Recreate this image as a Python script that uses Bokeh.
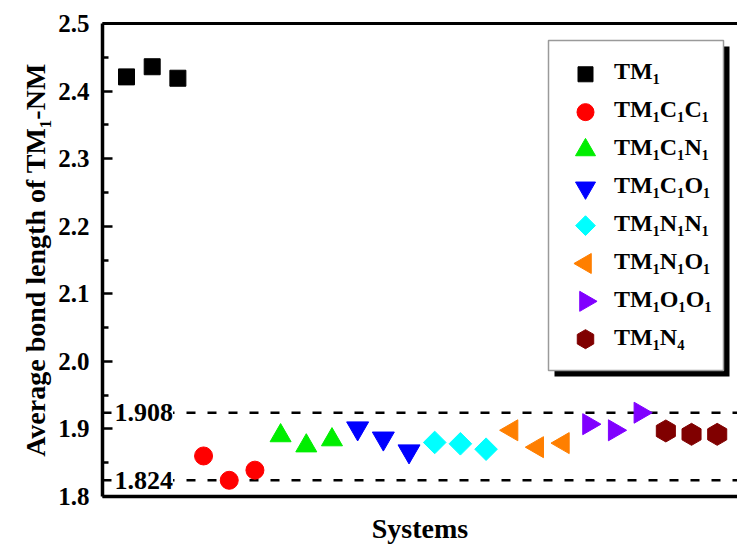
import numpy as np
from bokeh.plotting import figure
from bokeh.models import (Range1d, FixedTicker, LinearAxis, Legend, LegendItem,
                          Span, Label, BoxAnnotation, NumeralTickFormatter, ColumnDataSource)
from bokeh.embed import file_html
from bokeh.resources import INLINE

FONT = "Liberation Serif"

# ---- data ----
series_labels = ["TM₁", "TM₁C₁C₁", "TM₁C₁N₁", "TM₁C₁O₁", "TM₁N₁N₁", "TM₁N₁O₁", "TM₁O₁O₁", "TM₁N₄"]
tm1 = [2.421, 2.436, 2.419]
tm1c1c1 = [1.860, 1.824, 1.839]
tm1c1n1 = [1.890, 1.875, 1.884]
tm1c1o1 = [1.901, 1.886, 1.867]
tm1n1n1 = [1.880, 1.878, 1.870]
tm1n1o1 = [1.898, 1.873, 1.879]
tm1o1o1 = [1.907, 1.898, 1.924]
tm1n4 = [1.897, 1.892, 1.892]
series_values = [tm1, tm1c1c1, tm1c1n1, tm1c1o1, tm1n1n1, tm1n1o1, tm1o1o1, tm1n4]

ref_positions = [1.924, 1.824]
ref_labels = ["1.908", "1.824"]
y_ticks = [1.8, 1.9, 2.0, 2.1, 2.2, 2.3, 2.4, 2.5]

# ---- styles ----
colors = ["#000000", "#ff0000", "#00ee00", "#0000ff", "#00ffff", "#ff7f00", "#8000ff", "#800000"]
markers = ["square", "circle", "triangle", "inverted_triangle", "square", "triangle", "triangle", "hex"]
angles = [0, 0, 0, 0, np.pi / 4, np.pi / 2, -np.pi / 2, np.pi / 2]
sizes = [16, 18, 21, 22, 16, 21, 21, 22]
key_sizes = [15, 17, 20, 20, 14, 20, 20, 19]

W, H = 737, 546
BL, BT, BB, BR = 102, 23, 48, 0
FW, FH = W - BL - BR, H - BT - BB

p = figure(width=W, height=H,
           x_range=Range1d(0.065, 24.79), y_range=Range1d(1.8, 2.5),
           output_backend="svg", toolbar_location=None,
           min_border_left=BL, min_border_right=BR, min_border_top=BT, min_border_bottom=BB)
p.grid.visible = False
p.outline_line_color = None
p.background_fill_color = "white"
p.border_fill_color = "white"
p.extra_x_ranges = {"px": Range1d(0, FW)}
p.extra_y_ranges = {"px": Range1d(0, FH)}

# y axis
ya = p.yaxis[0]
ya.ticker = FixedTicker(ticks=y_ticks,
                        minor_ticks=[round((a + b) / 2, 3) for a, b in zip(y_ticks[:-1], y_ticks[1:])])
ya.formatter = NumeralTickFormatter(format="0.0")
ya.axis_line_width = 3.5
ya.major_tick_in = 10
ya.major_tick_out = 0
ya.minor_tick_in = 6
ya.minor_tick_out = 0
ya.major_tick_line_width = 2.5
ya.minor_tick_line_width = 2.5
ya.major_label_standoff = 13
ya.major_label_text_font = FONT
ya.major_label_text_font_style = "bold"
ya.major_label_text_font_size = "25px"
ya.major_label_text_color = "black"
ya.axis_label = "Average bond length of TM₁-NM"
ya.axis_label_text_font = FONT
ya.axis_label_text_font_style = "bold"
ya.axis_label_text_font_size = "28px"
ya.axis_label_text_color = "black"
ya.axis_label_standoff = 4

# x axis
xa = p.xaxis[0]
xa.ticker = FixedTicker(ticks=[])
xa.major_tick_line_color = None
xa.minor_tick_line_color = None
xa.major_label_text_font_size = "0px"
xa.axis_line_width = 3.5
xa.axis_label = "Systems"
xa.axis_label_text_font = FONT
xa.axis_label_text_font_style = "bold"
xa.axis_label_text_font_size = "28px"
xa.axis_label_text_color = "black"
xa.axis_label_standoff = 16

# top frame line
top = LinearAxis(ticker=FixedTicker(ticks=[]), major_tick_line_color=None,
                 minor_tick_line_color=None, major_label_text_font_size="0px",
                 axis_line_width=3)
p.add_layout(top, "above")

# reference lines
for pos, lab in zip(ref_positions, ref_labels):
    p.add_layout(Span(location=pos, dimension="width", line_color="black",
                      line_width=2.5, line_dash="9 12", level="underlay"))
    p.add_layout(Label(x=12, x_units="screen", y=pos, text=lab, text_baseline="middle",
                       text_font=FONT, text_font_style="bold", text_font_size="26px",
                       text_color="black", background_fill_color="white", level="underlay"))

# legend frame: shadow + white box drawn beneath the glyphs
LEG_L, LEG_B, LEG_W, PAD, GW, RH = 446, 126, 175, 13, 48, 38
n = len(series_labels)
leg_top = LEG_B + 2 * PAD + n * RH

p.add_layout(BoxAnnotation(left=LEG_L + 6, right=LEG_L + LEG_W + 6, bottom=LEG_B - 6, top=leg_top - 6,
                           left_units="screen", right_units="screen",
                           bottom_units="screen", top_units="screen",
                           fill_color="black", fill_alpha=1, line_color=None, level="underlay"))
p.add_layout(BoxAnnotation(left=LEG_L, right=LEG_L + LEG_W, bottom=LEG_B, top=leg_top,
                           left_units="screen", right_units="screen",
                           bottom_units="screen", top_units="screen",
                           fill_color="white", fill_alpha=1, line_color="#9a9a9a",
                           line_width=1.5, line_alpha=1, level="underlay"))

# data
for i, vals in enumerate(series_values):
    xs = [3 * i + k + 1 for k in range(len(vals))]
    p.scatter(x=xs, y=vals, marker=markers[i], size=sizes[i], angle=angles[i],
              fill_color=colors[i], line_color=colors[i])

# legend keys (drawn on a pixel range so rotated markers keep their orientation)
keys = ColumnDataSource(dict(
    x=[LEG_L + PAD + GW / 2] * n,
    y=[leg_top - PAD - RH / 2 - i * RH for i in range(n)],
    marker=markers, angle=angles, size=key_sizes, color=colors))
p.scatter(x="x", y="y", marker="marker", angle="angle", size="size",
          fill_color="color", line_color="color", source=keys,
          x_range_name="px", y_range_name="px")

dummy = p.scatter(x=[], y=[], fill_alpha=0, line_alpha=0)
legend = Legend(items=[LegendItem(label=l, renderers=[dummy]) for l in series_labels],
                location=(LEG_L + 10, LEG_B + 14), margin=0, padding=PAD, spacing=0,
                glyph_width=GW, glyph_height=RH, label_height=RH, label_standoff=8,
                label_text_font=FONT, label_text_font_style="bold", label_text_font_size="24px",
                label_text_color="black",
                border_line_color=None, background_fill_alpha=0)
p.add_layout(legend, "center")

open("out.html", "w").write(file_html(p, INLINE))
